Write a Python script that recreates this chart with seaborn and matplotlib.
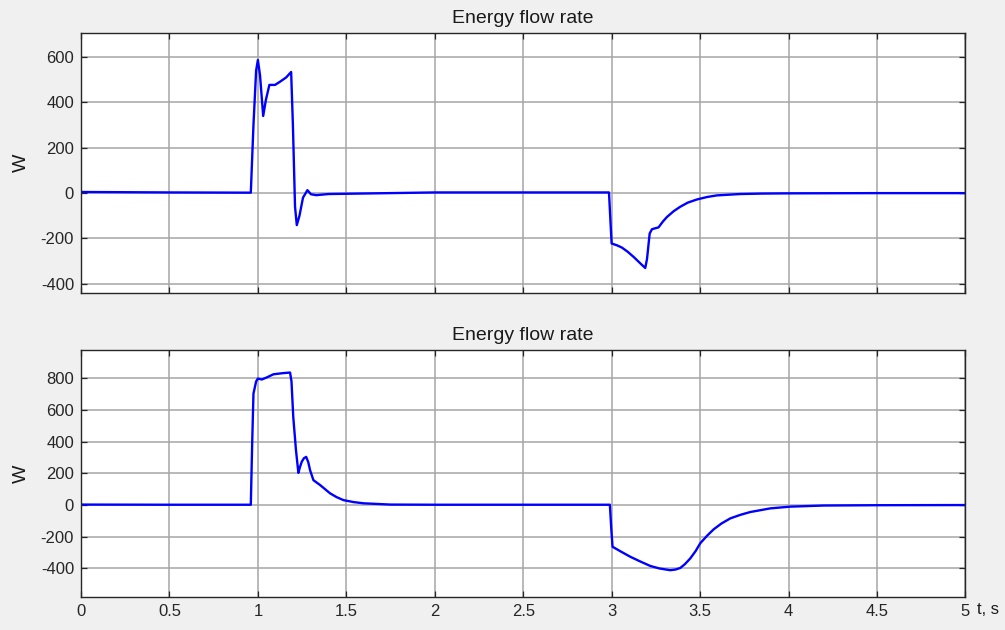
import matplotlib.pyplot as plt
import numpy as np
import pandas as pd
import seaborn as sns

# upper trace: time (s) and power (W)
t_top = [0.0, 0.5, 0.96, 0.975, 0.99, 1.0, 1.012, 1.03, 1.045, 1.065, 1.097, 1.125,
         1.16, 1.188, 1.198, 1.21, 1.22, 1.235, 1.255, 1.28, 1.3, 1.33, 1.4, 2.0,
         2.985, 2.995, 3.0, 3.03, 3.058, 3.09, 3.124, 3.16, 3.19, 3.2, 3.215,
         3.228, 3.265, 3.29, 3.313, 3.35, 3.388, 3.43, 3.482, 3.54, 3.595, 3.727,
         3.85, 4.0, 4.5, 5.0]
p_top = [5, 3, 2, 300, 540, 587, 520, 340, 410, 477, 477, 491,
         510, 534, 300, -60, -141, -100, -20, 13, -5, -9, -4, 3,
         3, -150, -222, -230, -240, -258, -281, -308, -330, -290, -178,
         -159, -151, -125, -105, -80, -60, -42, -28, -17, -10, -4,
         -2, -1, 0, 0]

# lower trace
t_bot = [0.0, 0.5, 0.96, 0.968, 0.975, 0.99, 1.0, 1.022, 1.05, 1.088, 1.14, 1.182,
         1.19, 1.2, 1.215, 1.229, 1.238, 1.248, 1.26, 1.273, 1.285, 1.295, 1.314,
         1.352, 1.38, 1.408, 1.445, 1.484, 1.54, 1.597, 1.75, 2.0, 2.99, 2.998,
         3.005, 3.05, 3.105, 3.16, 3.218, 3.27, 3.331, 3.36, 3.388, 3.415, 3.445,
         3.475, 3.501, 3.54, 3.577, 3.62, 3.671, 3.73, 3.784, 3.897, 4.01, 4.2,
         4.5, 5.0]
p_bot = [3, 2, 2, 400, 703, 780, 798, 792, 805, 825, 832, 836,
         780, 556, 350, 203, 240, 273, 295, 304, 270, 220, 157,
         126, 100, 74, 50, 31, 19, 11, 3, 2, 2, -150,
         -263, -292, -326, -355, -384, -400, -411, -407, -397, -372, -336,
         -290, -241, -193, -153, -117, -84, -61, -44, -21, -10, -3,
         -1, 0]

df_top = pd.DataFrame({"t": t_top, "P": p_top})
df_bot = pd.DataFrame({"t": t_bot, "P": p_bot})

sns.set_style("white")
plt.rcParams["font.family"] = ["Liberation Sans", "DejaVu Sans"]
plt.rcParams["axes.unicode_minus"] = False

fig = plt.figure(figsize=(10.05, 6.3), dpi=100, facecolor="#f0f0f0")
ax_top = fig.add_axes([0.0806, 0.535, 0.880, 0.4127])
ax_bot = fig.add_axes([0.0806, 0.0524, 0.880, 0.392])

panels = [
    (ax_top, df_top, (-440, 706), [-400, -200, 0, 200, 400, 600]),
    (ax_bot, df_bot, (-580, 978), [-400, -200, 0, 200, 400, 600, 800]),
]

for ax, df, ylim, yticks in panels:
    sns.lineplot(data=df, x="t", y="P", ax=ax, color="#0000ff", linewidth=1.7,
                 estimator=None, sort=False)
    ax.set_xlim(0, 5)
    ax.set_ylim(*ylim)
    ax.set_xticks(np.arange(0, 5.01, 0.5))
    ax.set_yticks(yticks)
    ax.set_facecolor("white")
    ax.grid(True, color="#a6a6a6", linewidth=1.1)
    ax.set_axisbelow(True)
    for s in ax.spines.values():
        s.set_color("#262626")
        s.set_linewidth(1.0)
    ax.tick_params(direction="in", length=4, width=0.9, colors="#262626",
                   labelsize=12, pad=5, top=True, right=True, bottom=True, left=True)
    ax.set_title("Energy flow rate", fontsize=14, color="#1a1a1a", pad=7)
    ax.set_ylabel("W", fontsize=14, color="#1a1a1a", labelpad=8)
    ax.set_xlabel("")

ax_top.set_xticklabels([])
ax_bot.set_xticklabels(["0", "0.5", "1", "1.5", "2", "2.5", "3", "3.5", "4", "4.5", "5"])
ax_bot.text(1.013, -0.022, "t, s", transform=ax_bot.transAxes, fontsize=12,
            color="#1a1a1a", ha="left", va="top")

fig.savefig("out.png", dpi=100, facecolor=fig.get_facecolor())
